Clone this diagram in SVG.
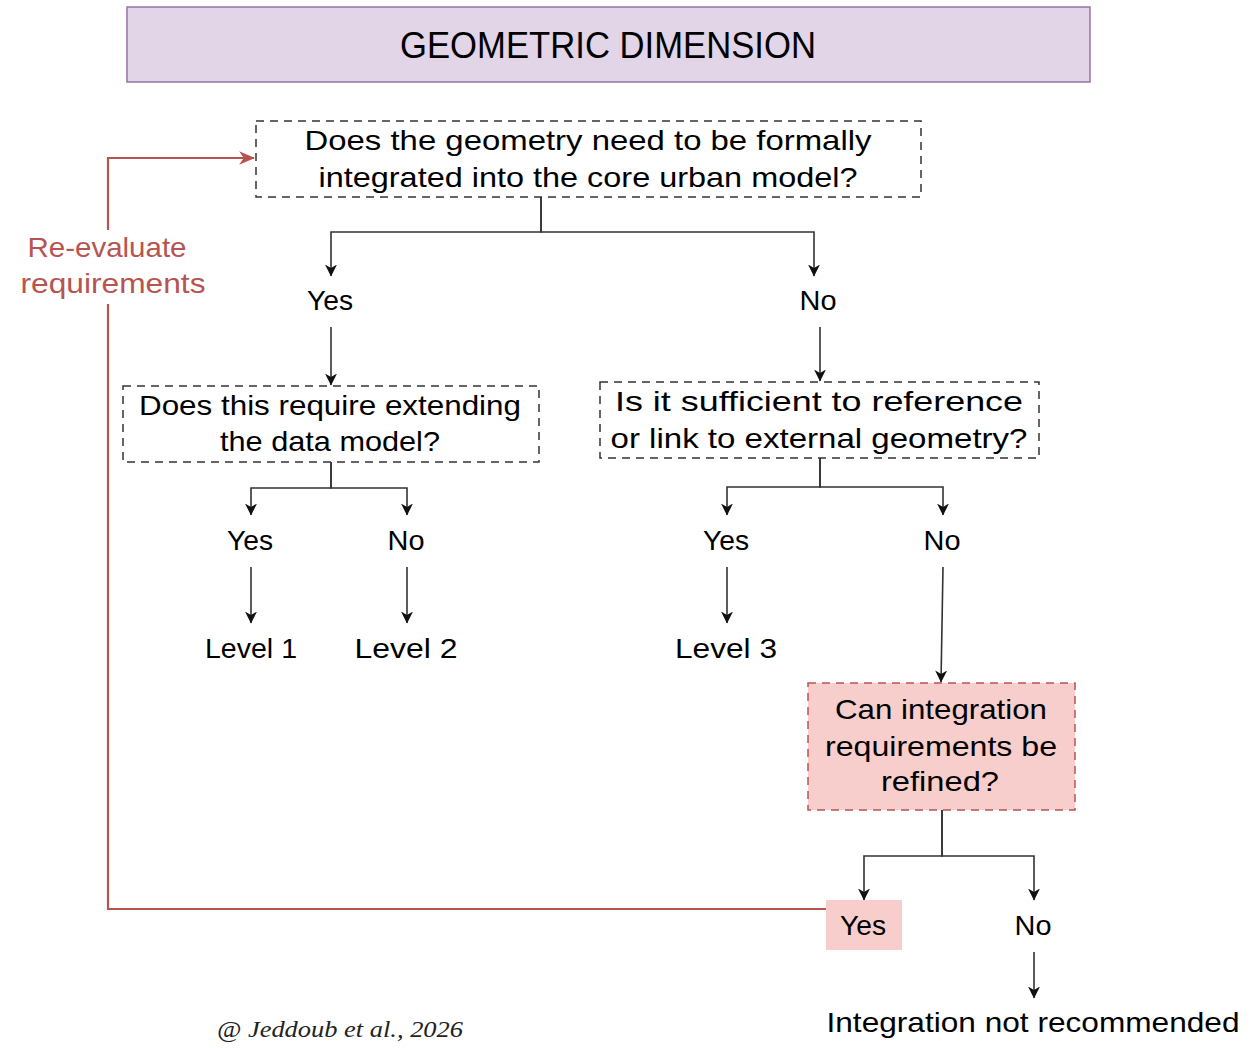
<svg xmlns="http://www.w3.org/2000/svg" width="1255" height="1048" viewBox="0 0 1255 1048">
  <defs>
    <style>
      .lbl { font-family: "Liberation Sans", Arial, sans-serif; font-size: 28px; fill: #000; text-anchor: middle; }
      .title { font-family: "Liberation Sans", Arial, sans-serif; font-size: 37px; fill: #000; text-anchor: middle; }
      .red { fill: #b85450; }
      .q { fill: none; stroke: #333; stroke-width: 1.5; stroke-dasharray: 8 6; }
      .qred { fill: #f8cecc; stroke: #b85450; stroke-width: 1.5; stroke-dasharray: 8 6; }
      .edge { fill: none; stroke: #333; stroke-width: 1.6; marker-end: url(#arrow); }
      .loop { fill: none; stroke: #b85450; stroke-width: 2.2; }
      .credit { font-family: "Liberation Serif", "Times New Roman", serif; font-style: italic; font-size: 24px; fill: #222; text-anchor: middle; }
    </style>
    <marker id="arrow" viewBox="0 0 12 14" refX="11.5" refY="7" markerWidth="12" markerHeight="14" markerUnits="userSpaceOnUse" orient="auto">
      <path d="M0,1 L12,7 L0,13 L3.5,7 z" fill="#111"/>
    </marker>
    <marker id="arrowRed" viewBox="0 0 14 14" refX="13" refY="7" markerWidth="16" markerHeight="16" markerUnits="userSpaceOnUse" orient="auto">
      <path d="M0,1 L14,7 L0,13 L4,7 z" fill="#b85450"/>
    </marker>
  </defs>

  <rect width="1255" height="1048" fill="#fff"/>

  <!-- header -->
  <g id="title">
    <rect x="127" y="7" width="963" height="75" fill="#e1d5e7" stroke="#9673a6" stroke-width="1.5"/>
    <text class="title" x="608" y="58" textLength="416" lengthAdjust="spacingAndGlyphs">GEOMETRIC DIMENSION</text>
  </g>

  <!-- connectors -->
  <g id="connectors">
    <path class="edge" d="M541,197 V232 H331 V276"/>
    <path class="edge" d="M541,197 V232 H814 V276"/>
    <path class="edge" d="M331,327 V385"/>
    <path class="edge" d="M820,327 V381"/>
    <path class="edge" d="M331,462 V488 H251 V515"/>
    <path class="edge" d="M331,462 V488 H407 V515"/>
    <path class="edge" d="M251,567 V623"/>
    <path class="edge" d="M407,567 V623"/>
    <path class="edge" d="M820,458 V487 H727 V515"/>
    <path class="edge" d="M820,458 V487 H943 V515"/>
    <path class="edge" d="M727,567 V623"/>
    <path class="edge" d="M943,567 L941,682"/>
    <path class="edge" d="M942,810 V856 H864 V900"/>
    <path class="edge" d="M942,810 V856 H1034 V900"/>
    <path class="edge" d="M1034,952 V998"/>
    <!-- feedback loop back to the first question -->
    <path class="loop" d="M826,909 H108 V304"/>
    <path class="loop" d="M108,230 V158 H254" marker-end="url(#arrowRed)"/>
  </g>

  <g id="loop-label">
    <text class="lbl red" x="107" y="257" textLength="159" lengthAdjust="spacingAndGlyphs">Re-evaluate</text>
    <text class="lbl red" x="113" y="293" textLength="185" lengthAdjust="spacingAndGlyphs">requirements</text>
  </g>

  <!-- questions -->
  <g id="q-formal">
    <rect class="q" x="256" y="121" width="665" height="76"/>
    <text class="lbl" x="588" y="150" textLength="567" lengthAdjust="spacingAndGlyphs">Does the geometry need to be formally</text>
    <text class="lbl" x="588" y="187" textLength="539" lengthAdjust="spacingAndGlyphs">integrated into the core urban model?</text>
  </g>

  <g id="q-extend">
    <rect class="q" x="123" y="386" width="416" height="76"/>
    <text class="lbl" x="330" y="415" textLength="382" lengthAdjust="spacingAndGlyphs">Does this require extending</text>
    <text class="lbl" x="330" y="451" textLength="220" lengthAdjust="spacingAndGlyphs">the data model?</text>
  </g>

  <g id="q-reference">
    <rect class="q" x="600" y="382" width="439" height="76"/>
    <text class="lbl" x="819" y="411" textLength="408" lengthAdjust="spacingAndGlyphs">Is it sufficient to reference</text>
    <text class="lbl" x="819" y="448" textLength="417" lengthAdjust="spacingAndGlyphs">or link to external geometry?</text>
  </g>

  <g id="q-refine">
    <rect class="qred" x="808" y="683" width="267" height="127"/>
    <text class="lbl" x="941" y="719" textLength="212" lengthAdjust="spacingAndGlyphs">Can integration</text>
    <text class="lbl" x="941" y="756" textLength="232" lengthAdjust="spacingAndGlyphs">requirements be</text>
    <text class="lbl" x="940" y="791" textLength="118" lengthAdjust="spacingAndGlyphs">refined?</text>
  </g>

  <!-- answers -->
  <g id="a-yes-1"><text class="lbl" x="330" y="310" textLength="46" lengthAdjust="spacingAndGlyphs">Yes</text></g>
  <g id="a-no-1"><text class="lbl" x="818" y="310" textLength="37" lengthAdjust="spacingAndGlyphs">No</text></g>
  <g id="a-yes-2"><text class="lbl" x="250" y="550" textLength="46" lengthAdjust="spacingAndGlyphs">Yes</text></g>
  <g id="a-no-2"><text class="lbl" x="406" y="550" textLength="37" lengthAdjust="spacingAndGlyphs">No</text></g>
  <g id="a-yes-3"><text class="lbl" x="726" y="550" textLength="46" lengthAdjust="spacingAndGlyphs">Yes</text></g>
  <g id="a-no-3"><text class="lbl" x="942" y="550" textLength="37" lengthAdjust="spacingAndGlyphs">No</text></g>
  <g id="a-yes-4">
    <rect x="826" y="900" width="76" height="50" fill="#f8cecc"/>
    <text class="lbl" x="863" y="935" textLength="46" lengthAdjust="spacingAndGlyphs">Yes</text>
  </g>
  <g id="a-no-4"><text class="lbl" x="1033" y="935" textLength="37" lengthAdjust="spacingAndGlyphs">No</text></g>

  <!-- outcomes -->
  <g id="level-1"><text class="lbl" x="251" y="658" textLength="92" lengthAdjust="spacingAndGlyphs">Level 1</text></g>
  <g id="level-2"><text class="lbl" x="406" y="658" textLength="103" lengthAdjust="spacingAndGlyphs">Level 2</text></g>
  <g id="level-3"><text class="lbl" x="726" y="658" textLength="102" lengthAdjust="spacingAndGlyphs">Level 3</text></g>
  <g id="not-recommended"><text class="lbl" x="1033" y="1032" textLength="413" lengthAdjust="spacingAndGlyphs">Integration not recommended</text></g>

  <text class="credit" x="340" y="1037" textLength="246" lengthAdjust="spacingAndGlyphs">@ Jeddoub et al., 2026</text>
</svg>
